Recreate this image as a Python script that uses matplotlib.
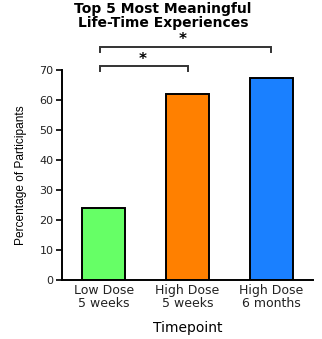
import matplotlib
matplotlib.use("Agg")
import matplotlib.pyplot as plt

categories = ["Low Dose\n5 weeks", "High Dose\n5 weeks", "High Dose\n6 months"]
values = [24, 62, 67.5]
colors = ["#66FF66", "#FF8000", "#1A80FF"]
yticks = [0, 10, 20, 30, 40, 50, 60, 70]
title = "Top 5 Most Meaningful\nLife-Time Experiences"
ylabel = "Percentage of Participants"
xlabel = "Timepoint"
brackets = [(0, 1, 71.3, "*"), (0, 2, 77.8, "*")]

fig = plt.figure(figsize=(3.22, 3.39), dpi=100)
ax = fig.add_axes([62/322, 59/339, 251/322, 210/339])
x = list(range(len(categories)))
ax.bar(x, values, width=0.51, color=colors, edgecolor="black", linewidth=1.4, zorder=2)
ax.set_xlim(-0.5, 2.5)
ax.set_ylim(0, 70)
ax.set_yticks(yticks)
ax.set_xticks(x)
ax.set_xticklabels(categories, fontsize=9, family="DejaVu Sans", color="#222222", linespacing=1.0)
ax.tick_params(axis="x", length=0, pad=3)
ax.tick_params(axis="y", length=4, width=1.4, labelsize=8, pad=2, colors="#222222")
for s in ["top", "right"]:
    ax.spines[s].set_visible(False)
for s in ["left", "bottom"]:
    ax.spines[s].set_linewidth(1.4)
ax.set_ylabel(ylabel, family="Liberation Sans", fontsize=8.6, labelpad=9)
ax.set_xlabel(xlabel, family="DejaVu Sans", fontsize=10, labelpad=8)

for (a, b, y, lab) in brackets:
    x0 = a - 0.04
    ax.plot([x0, x0, b, b], [y - 1.7, y, y, y - 1.7], color="#333333", lw=1.4,
            clip_on=False, solid_joinstyle="miter")
    ax.text(a + (b - a) * 0.47, y + 2.3, lab, ha="center", va="center", fontsize=11,
            fontweight="bold", clip_on=False)

fig.text(163/322, 1 - 2/339, title, ha="center", va="top", fontsize=10,
         fontweight="bold", family="DejaVu Sans", linespacing=0.98)

fig.savefig("out.png", dpi=100)
